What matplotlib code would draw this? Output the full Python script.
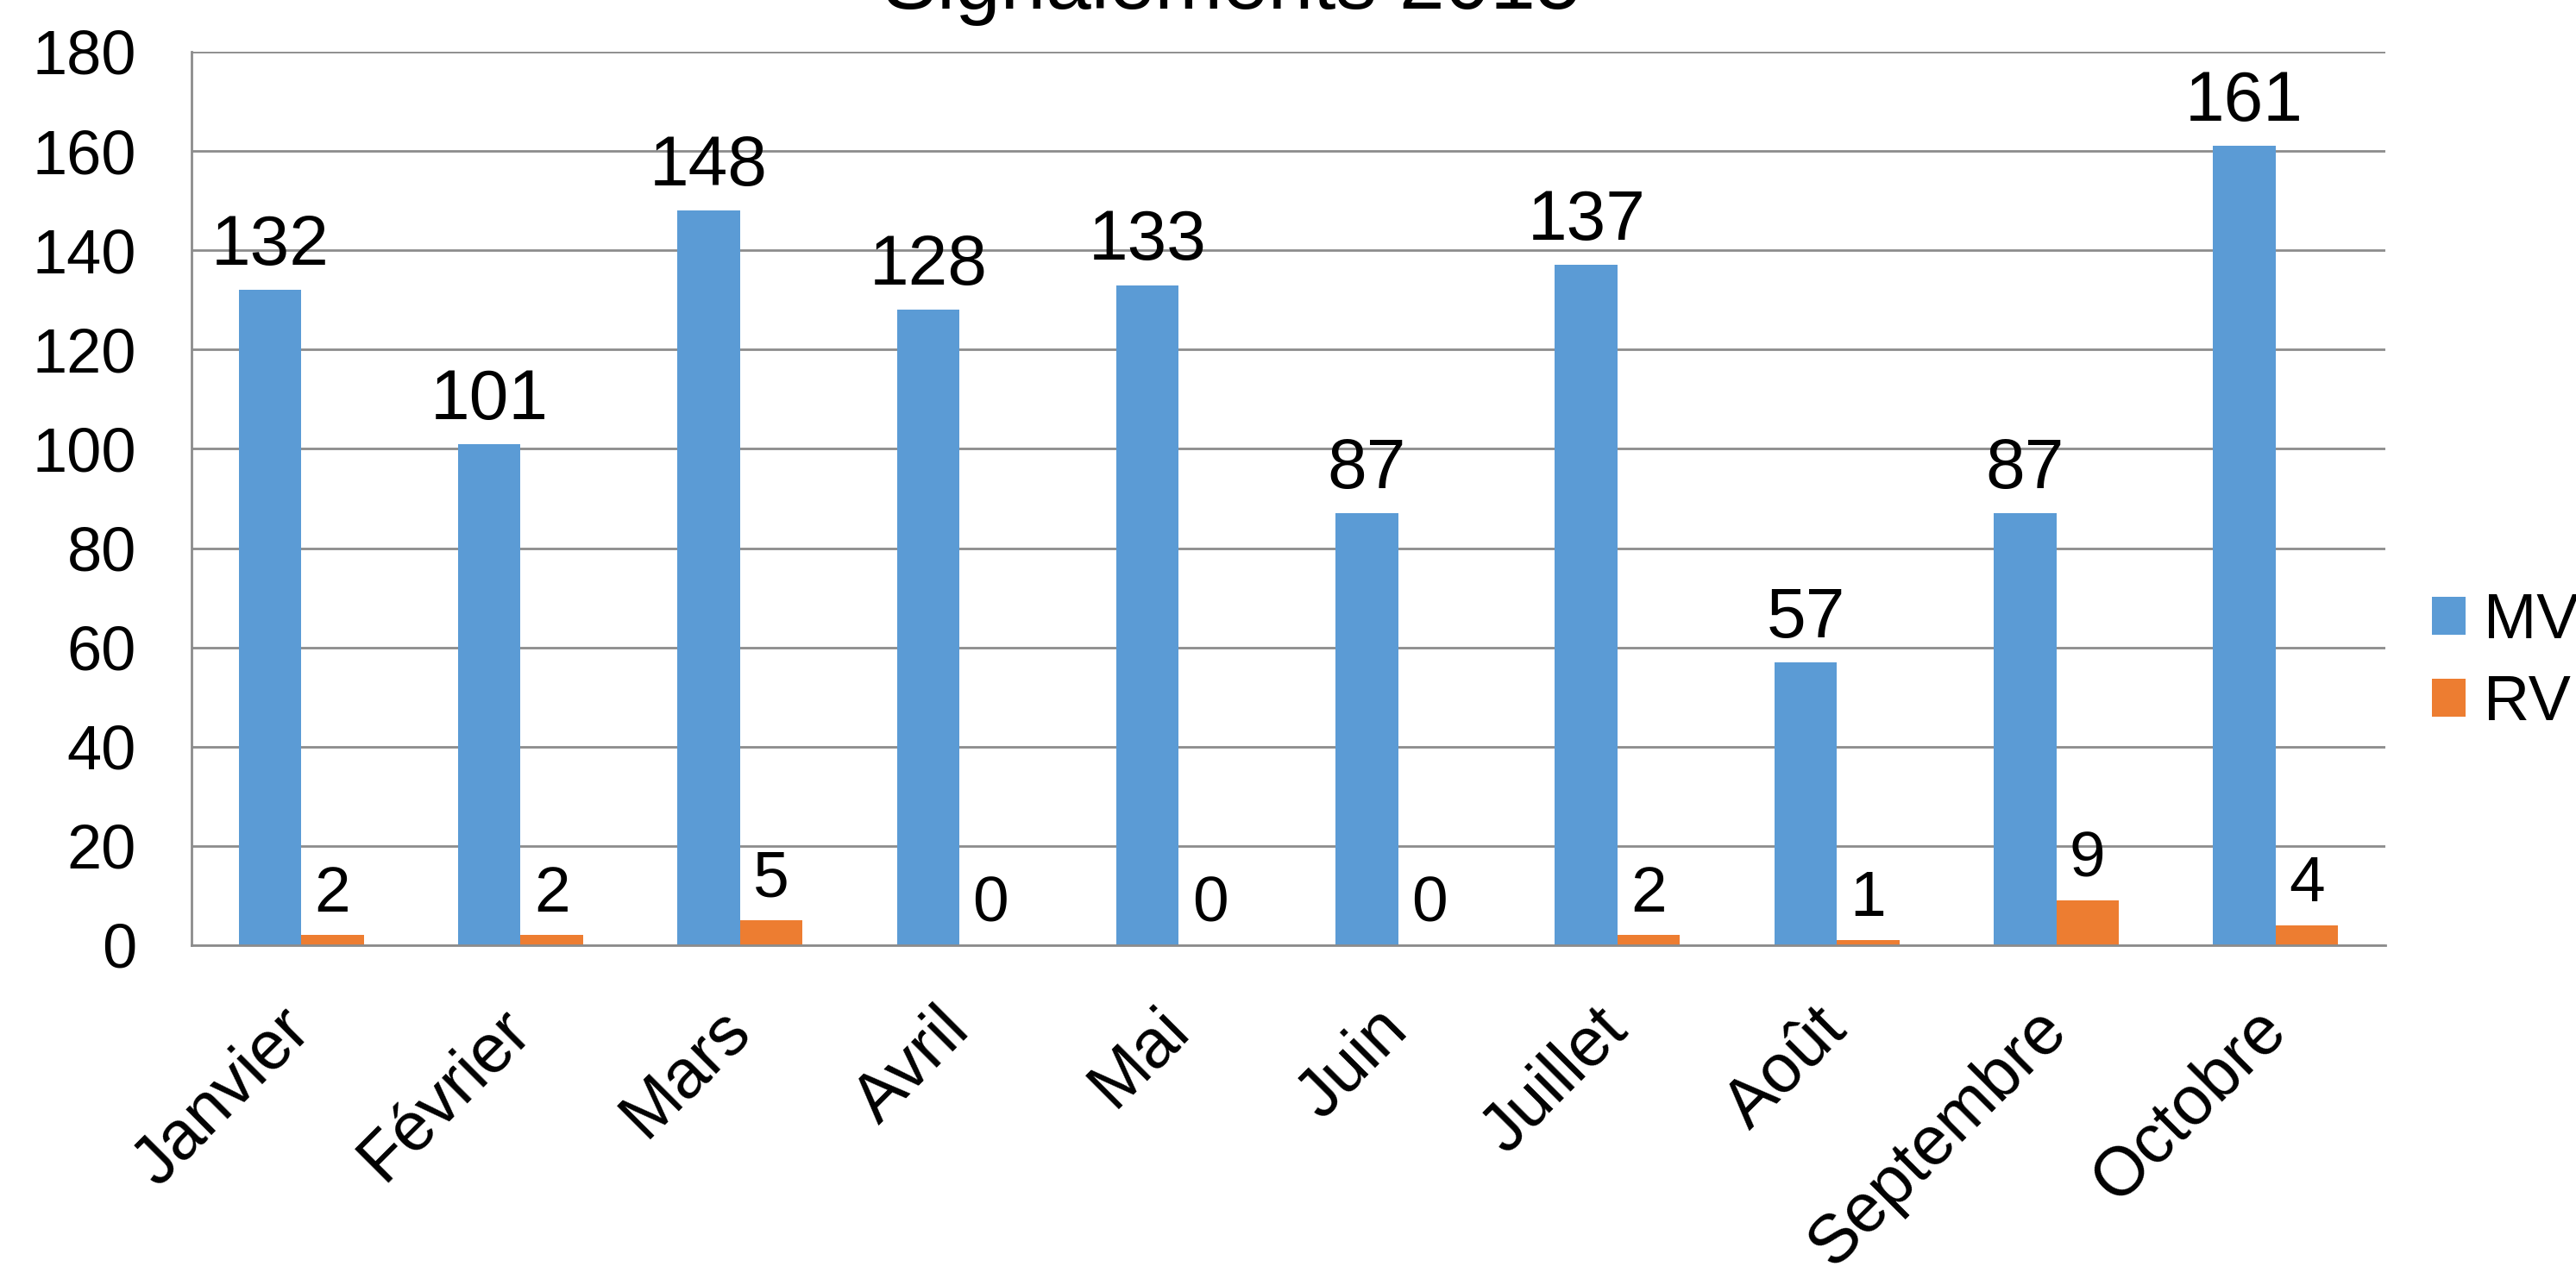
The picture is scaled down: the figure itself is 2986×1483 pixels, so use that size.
import numpy as np
import matplotlib.pyplot as plt

plt.rcParams['font.family'] = ['Liberation Sans', 'DejaVu Sans']

months = ['Janvier', 'Février', 'Mars', 'Avril', 'Mai', 'Juin',
          'Juillet', 'Août', 'Septembre', 'Octobre']
mv = [132, 101, 148, 128, 133, 87, 137, 57, 87, 161]
rv = [2, 2, 5, 0, 0, 0, 2, 1, 9, 4]
yticks = [0, 20, 40, 60, 80, 100, 120, 140, 160, 180]

blue = '#5B9BD5'
orange = '#ED7D31'
grid_c = '#8c8c8c'

fig = plt.figure(figsize=(29.86, 14.83), dpi=100)
ax = fig.add_axes([222 / 2986, 1 - 1096 / 1483, (2765 - 222) / 2986, (1096 - 60) / 1483])

x = np.arange(len(months))
w = 0.285
b1 = ax.bar(x - w / 2, mv, w, color=blue, label='MV', zorder=3)
b2 = ax.bar(x + w / 2, rv, w, color=orange, label='RV', zorder=3)

# value labels above the bars
for rect, v in zip(b1, mv):
    ax.annotate(str(v), (rect.get_x() + rect.get_width() / 2, v), xytext=(0, 21),
                textcoords='offset points', ha='center', va='baseline', fontsize=59)
for rect, v in zip(b2, rv):
    ax.annotate(str(v), (rect.get_x() + rect.get_width() / 2, v), xytext=(0, 20),
                textcoords='offset points', ha='center', va='baseline', fontsize=54)

ax.set_xlim(-0.5, len(months) - 0.5)
ax.set_ylim(0, 180)
ax.set_yticks(yticks)
ax.tick_params(axis='y', length=0, labelsize=52, pad=46)
ax.set_xticks(x)
ax.set_xticklabels(months, rotation=45, ha='right', va='center', rotation_mode='anchor')
ax.tick_params(axis='x', length=0, labelsize=57, pad=62)

ax.grid(axis='y', color=grid_c, linewidth=2, zorder=0)
for s in ['top', 'right']:
    ax.spines[s].set_visible(False)
for s in ['left', 'bottom']:
    ax.spines[s].set_color(grid_c)
    ax.spines[s].set_linewidth(2)
    ax.spines[s].set_zorder(4)

fig.legend(loc='center left', bbox_to_anchor=(2819 / 2986, 1 - 768 / 1483),
           frameon=False, fontsize=53, handlelength=0.53, handleheight=0.53,
           handletextpad=0.29, labelspacing=0.35, borderpad=0, borderaxespad=0)

# title is partly cut at the top edge, as in the source image
fig.text(1428 / 2986, 1 - 10 / 1483, 'Signalements 2015', ha='center', va='baseline', fontsize=68)

fig.savefig('out.png', dpi=100)
